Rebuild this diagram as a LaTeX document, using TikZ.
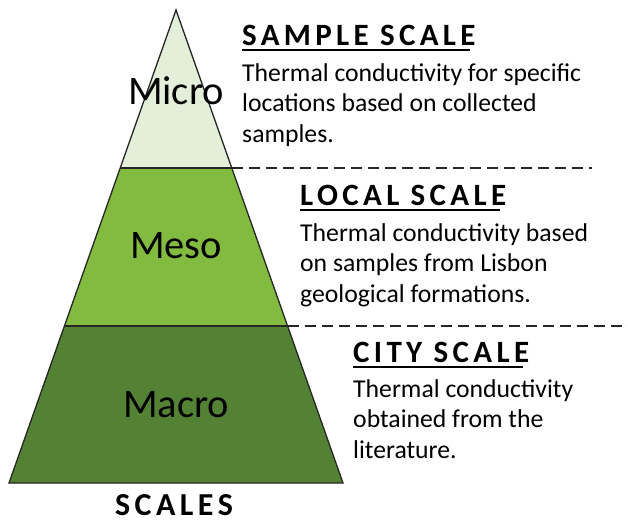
\documentclass[tikz,border=0pt]{standalone}
\usepackage{fontspec}
\setmainfont{Carlito}
\newfontfamily\headfont[LetterSpace=14]{Carlito}
\begin{document}
\begin{tikzpicture}[x=1pt,y=-1pt,
  tier/.style={draw=black!85,line width=1.3pt,line join=miter},
  tierlabel/.style={font=\fontsize{40.5}{42}\selectfont,text=black,inner sep=0pt},
  divider/.style={draw=black!85,line width=1.5pt,dash pattern=on 11pt off 6pt},
  heading/.style={font=\headfont\bfseries\fontsize{31}{32}\selectfont,inner sep=0pt,anchor=base west},
  body/.style={font=\fontsize{25.7}{30.5}\selectfont,inner sep=0pt,anchor=base west,align=left},
  uline/.style={line width=2pt}]
\useasboundingbox (0,0) rectangle (628,522);
\fill[white] (0,0) rectangle (628,522);
% pyramid corners and tier boundaries
\coordinate (apex) at (176,10);
\coordinate (bl) at (9,483);
\coordinate (br) at (343,483);
\coordinate (t1l) at (120.2,168);
\coordinate (t1r) at (231.8,168);
\coordinate (t2l) at (64.4,326);
\coordinate (t2r) at (287.6,326);
% tiers
\fill[fill={rgb,255:red,227;green,239;blue,217}] (apex) -- (t1r) -- (t1l) -- cycle;
\fill[fill={rgb,255:red,130;green,187;blue,64}] (t1l) -- (t1r) -- (t2r) -- (t2l) -- cycle;
\fill[fill={rgb,255:red,84;green,130;blue,53}] (t2l) -- (t2r) -- (br) -- (bl) -- cycle;
\draw[tier] (apex) -- (br) -- (bl) -- cycle;
\draw[tier] (t1l) -- (t1r);
\draw[tier] (t2l) -- (t2r);
% dashed dividers
\coordinate (d1) at (592,168);
\coordinate (d2) at (628,326);
\draw[divider] (t1r) -- (d1);
\draw[divider] (t2r) -- (d2);
% tier labels
\node[tierlabel] (micro) at (176,91) {Micro};
\node[tierlabel] (meso) at (176,246) {Meso};
\node[tierlabel] (macro) at (176,405) {Macro};
\node[font=\headfont\bfseries\fontsize{32}{33}\selectfont,inner sep=0pt,anchor=base] (scales) at (174,515) {SCALES};
% sample scale (body anchored at the baseline of its last line)
\node[heading] (h1) at (242,45) {SAMPLE SCALE};
\draw[uline] ([yshift=-5pt]h1.base west) -- ([yshift=-5pt,xshift=-6pt]h1.base east);
\node[body] (b1) at (242,142) {Thermal conductivity for specific\\locations based on collected\\samples.};
% local scale
\node[heading] (h2) at (300,205) {LOCAL SCALE};
\draw[uline] ([yshift=-5pt]h2.base west) -- ([yshift=-5pt,xshift=-6pt]h2.base east);
\node[body] (b2) at (300,302) {Thermal conductivity based\\on samples from Lisbon\\geological formations.};
% city scale
\node[heading] (h3) at (353,362) {CITY SCALE};
\draw[uline] ([yshift=-5pt]h3.base west) -- ([yshift=-5pt,xshift=-6pt]h3.base east);
\node[body] (b3) at (353,458) {Thermal conductivity\\obtained from the\\literature.};
\end{tikzpicture}
\end{document}
